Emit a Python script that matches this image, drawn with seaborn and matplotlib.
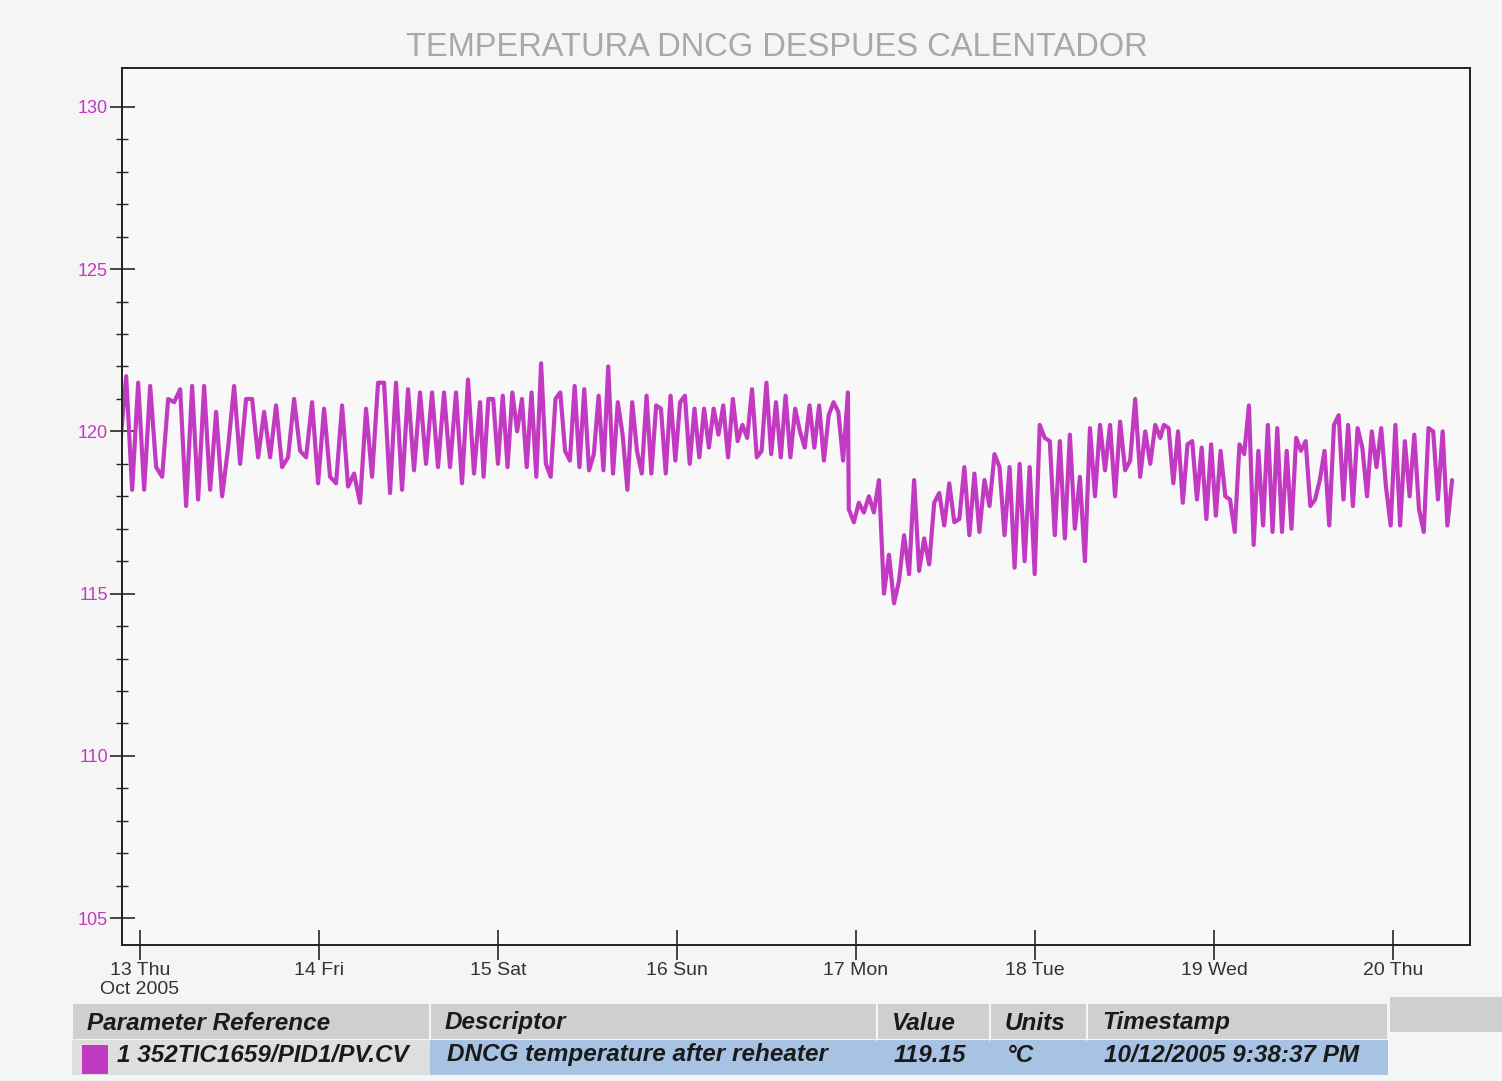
import numpy as np
import pandas as pd
import seaborn as sns
import matplotlib.pyplot as plt
from matplotlib.patches import Rectangle

# valores (dia de octubre 2005 -> temperatura °C)
# tramo 1: 13 Thu -> 14 Fri (tarde)
tramo_a = [119.6, 121.7, 118.2, 121.5, 118.2, 121.4, 118.9, 118.6, 121.0, 120.9,
           121.3, 117.7, 121.4, 117.9, 121.4, 118.2, 120.6, 118.0, 119.5, 121.4,
           119.0, 121.0, 121.0, 119.2, 120.6, 119.2, 120.8, 118.9, 119.2, 121.0,
           119.4, 119.2, 120.9, 118.4, 120.7, 118.6, 118.4, 120.8, 118.3, 118.7,
           117.8, 120.7, 118.6, 121.5, 121.5, 118.1, 121.5, 118.2, 121.3, 118.8,
           121.2, 119.0, 121.2, 118.9, 121.2, 118.9, 121.2, 118.4, 121.6, 118.7,
           120.9]
# tramo 2: hasta la caida del 17 Mon
tramo_b = [118.6, 121.0, 121.0, 119.0, 121.1, 118.9, 121.2, 120.0, 121.0, 118.9,
           121.2, 118.6, 122.1, 119.0, 118.6, 121.0, 121.2, 119.4, 119.1, 121.4,
           118.9, 121.3, 118.8, 119.3, 121.1, 118.8, 122.0, 118.7, 120.9, 119.9,
           118.2, 120.9, 119.4, 118.7, 121.1, 118.7, 120.8, 120.7, 118.7, 121.1,
           119.1, 120.9, 121.1, 119.0, 120.7, 119.2, 120.7, 119.5, 120.7, 119.9,
           120.8, 119.2, 121.0, 119.7, 120.2, 119.8, 121.3, 119.2, 119.4, 121.5,
           119.3, 120.9, 119.2, 121.1, 119.2, 120.7, 120.0, 119.5, 120.8, 119.5,
           120.8, 119.1, 120.5, 120.9, 120.6, 119.1, 121.2]
# tramo 3: despues de la caida
tramo_c = [117.6, 117.2, 117.8, 117.5, 118.0, 117.5, 118.5, 115.0, 116.2, 114.7,
           115.4, 116.8, 115.6, 118.5, 115.7, 116.7, 115.9, 117.8, 118.1, 117.1,
           118.4, 117.2, 117.3, 118.9, 116.8, 118.7, 116.9, 118.5, 117.7, 119.3,
           118.9, 116.8, 118.9, 115.8, 119.0, 116.0, 118.9, 115.6, 120.2, 119.8,
           119.7, 116.8, 119.7, 116.7, 119.9, 117.0, 118.6, 116.0, 120.1, 118.0,
           120.2, 118.8, 120.2, 118.0, 120.3, 118.8, 119.1, 121.0, 118.6, 120.0,
           119.0, 120.2, 119.8]
# tramo 4: 19 Wed -> 20 Thu
tramo_d = [120.2, 120.1, 118.4, 120.0, 117.8, 119.6, 119.7, 117.9, 119.5, 117.3,
           119.6, 117.4, 119.4, 118.0, 117.9, 116.9, 119.6, 119.3, 120.8, 116.5,
           119.4, 117.1, 120.2, 116.9, 120.1, 116.9, 119.4, 117.0, 119.8, 119.4,
           119.7, 117.7, 117.9, 118.5, 119.4, 117.1, 120.2, 120.5, 117.9, 120.2,
           117.7, 120.1, 119.5, 118.0, 120.0, 118.9, 120.1, 118.3, 117.1, 120.2,
           117.1, 119.7, 118.0, 119.9, 117.6, 116.9, 120.1, 120.0, 117.9, 120.0,
           117.1, 118.5]
# inicio y fin (dia) de cada tramo
tramos_inicio = [12.89, 14.92, 16.96, 18.72]
tramos_fin = [14.90, 16.955, 18.70, 20.33]

dias = [13, 14, 15, 16, 17, 18, 19, 20]
etiquetas_dias = ["13 Thu\nOct 2005", "14 Fri", "15 Sat", "16 Sun",
                  "17 Mon", "18 Tue", "19 Wed", "20 Thu"]
ticks_y = [105, 110, 115, 120, 125, 130]

encabezados = ["Parameter Reference", "Descriptor", "Value", "Units", "Timestamp"]
fila = ["1 352TIC1659/PID1/PV.CV", "DNCG temperature after reheater",
        "119.15", "°C", "10/12/2005 9:38:37 PM"]

tiempos = []
valores = []
for v, t0, t1 in zip([tramo_a, tramo_b, tramo_c, tramo_d], tramos_inicio, tramos_fin):
    tiempos += list(np.linspace(t0, t1, len(v)))
    valores += v
df = pd.DataFrame({"dia": tiempos, "temp": valores})

magenta = "#c23ac2"

sns.set_style("white")
plt.rcParams["font.family"] = ["Liberation Sans", "DejaVu Sans"]

fig = plt.figure(figsize=(15.02, 10.81), dpi=100, facecolor="#f5f5f5")
ax = fig.add_axes([0.0812, 0.1258, 0.8975, 0.8113])
ax.set_facecolor("#f8f8f8")

sns.lineplot(data=df, x="dia", y="temp", color=magenta, linewidth=3.0, ax=ax)

ax.set_xlim(12.9, 20.43)
ax.set_ylim(104.17, 131.2)
ax.set_xticks(dias)
ax.set_xticklabels(etiquetas_dias, fontsize=14, color="#333333", va="top",
                   linespacing=1.15)
ax.set_yticks(ticks_y)
ax.set_yticklabels([str(t) for t in ticks_y], fontsize=13, color=magenta)
ax.set_yticks(np.arange(105, 131, 1), minor=True)
ax.tick_params(axis="y", which="major", direction="inout", length=18, width=1.2, pad=1, left=True)
ax.tick_params(axis="y", which="minor", direction="inout", length=9, width=1.0, left=True)
ax.tick_params(axis="x", which="major", direction="inout", length=22, width=1.2, pad=1, bottom=True)
for s in ax.spines.values():
    s.set_color("#222222")
    s.set_linewidth(1.4)
ax.set_xlabel("")
ax.set_ylabel("")

fig.text(0.517, 0.956, "TEMPERATURA DNCG DESPUES CALENTADOR", ha="center", va="center",
         fontsize=23.5, color="#a8a8a8")

# tabla inferior
W, H = 1502.0, 1081.0
bordes = [72, 430, 877, 990, 1087, 1388]
for i in range(5):
    x0, x1 = bordes[i], bordes[i + 1]
    fig.add_artist(Rectangle((x0 / W, 1 - 1040 / H), (x1 - x0) / W, 37 / H,
                             transform=fig.transFigure, facecolor="#cfcfcf",
                             edgecolor="#f5f5f5", linewidth=1.5))
    fig.text((x0 + 15) / W, 1 - 1023 / H, encabezados[i], fontsize=17.5,
             fontweight="bold", style="italic", color="#1a1a1a", va="center")
    color_celda = "#dedede" if i == 0 else "#a7c2e2"
    fig.add_artist(Rectangle((x0 / W, 1 - 1075 / H), (x1 - x0) / W, 35 / H,
                             transform=fig.transFigure, facecolor=color_celda,
                             edgecolor="none"))
    xt = 117 if i == 0 else x0 + 17
    fig.text(xt / W, 1 - 1055 / H, fila[i], fontsize=17.5, fontweight="bold",
             style="italic", color="#1a1a1a", va="center")
fig.add_artist(Rectangle((1390 / W, 1 - 1032 / H), 112 / W, 35 / H,
                         transform=fig.transFigure, facecolor="#cfcfcf", edgecolor="none"))
fig.add_artist(Rectangle((82 / W, 1 - 1074 / H), 26 / W, 29 / H,
                         transform=fig.transFigure, facecolor=magenta, edgecolor="none"))

fig.savefig("out.png", dpi=100, facecolor=fig.get_facecolor())
